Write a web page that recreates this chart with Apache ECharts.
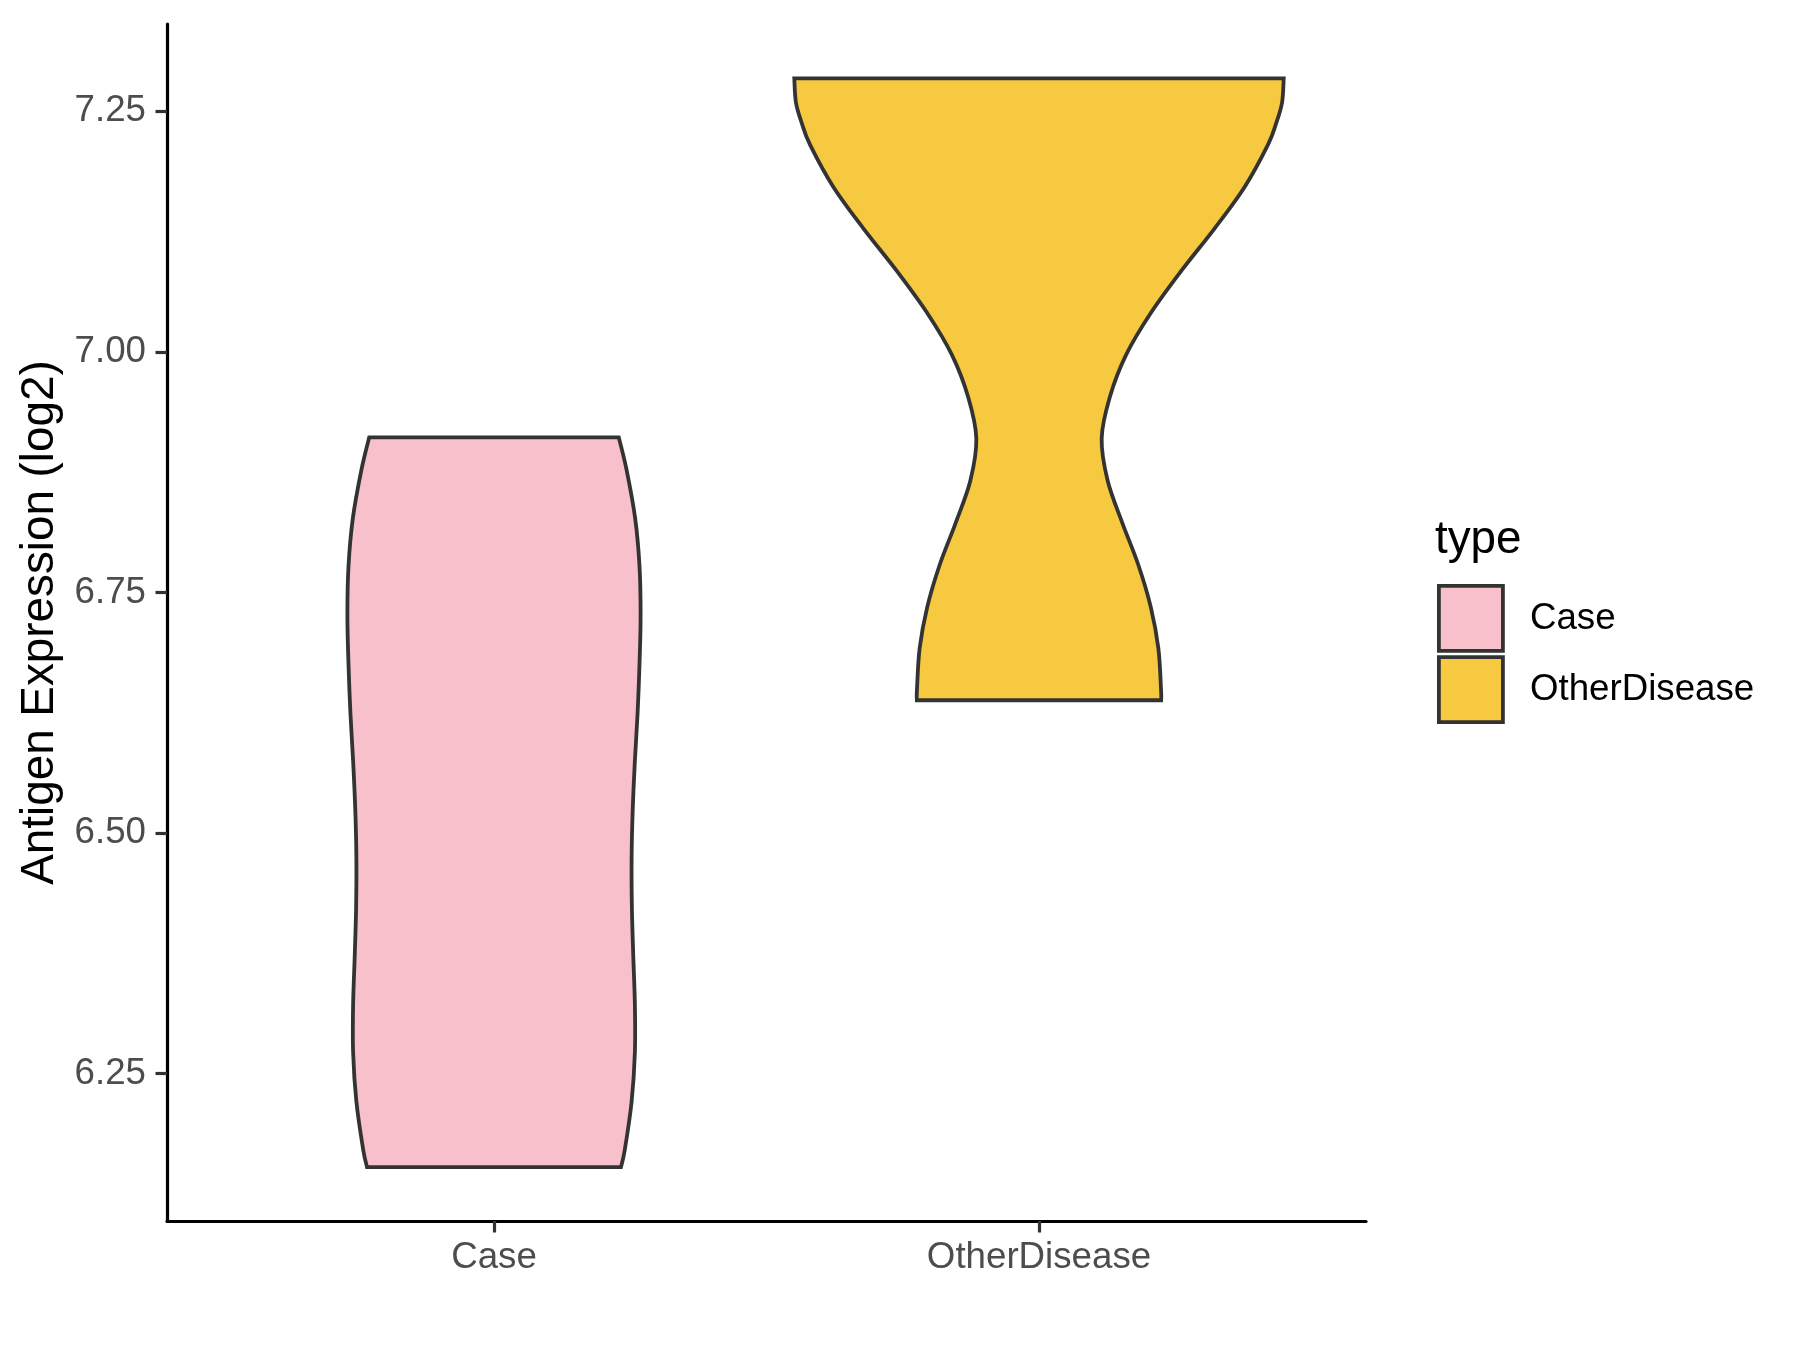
<!DOCTYPE html>
<html>
<head>
<meta charset="utf-8">
<script src="https://cdn.jsdelivr.net/npm/echarts@6/dist/echarts.min.js"></script>
<style>
  html, body { margin: 0; padding: 0; background: #fff; }
  #chart { width: 1800px; height: 1350px; }
</style>
</head>
<body>
<div id="chart"></div>
<script>
// categories on the x axis (positions 1 and 2)
const categories = ["Case", "OtherDisease"];
const fillColors = ["#F7C0CB", "#F6C940"];

// violin outlines: expression value and half width (x-axis units)
const caseY = [6.911, 6.878, 6.827, 6.777, 6.726, 6.676, 6.625, 6.575, 6.524, 6.474, 6.423, 6.373, 6.322, 6.272, 6.221, 6.171, 6.153];
const caseHalfWidth = [0.229, 0.243, 0.259, 0.267, 0.269, 0.267, 0.2635, 0.2585, 0.2545, 0.2525, 0.253, 0.2555, 0.2585, 0.2585, 0.2525, 0.240, 0.233];
const otherY = [7.284, 7.259, 7.237, 7.215, 7.171, 7.128, 7.084, 7.041, 6.997, 6.953, 6.910, 6.866, 6.822, 6.779, 6.735, 6.692, 6.648, 6.638];
const otherHalfWidth = [0.449, 0.446, 0.435, 0.420, 0.377, 0.322, 0.261, 0.206, 0.160, 0.130, 0.115, 0.126, 0.153, 0.182, 0.205, 0.219, 0.224, 0.224];

// y axis tick labels
const yTicks = [6.25, 6.5, 6.75, 7.0, 7.25];

const FONT = "'Liberation Sans', Arial, sans-serif";

// smooth curve (catmull-rom) through points, current point = pts[0]
function curve(pts) {
  let d = "";
  const n = pts.length;
  for (let i = 0; i < n - 1; i++) {
    const p0 = pts[Math.max(i - 1, 0)];
    const p1 = pts[i];
    const p2 = pts[i + 1];
    const p3 = pts[Math.min(i + 2, n - 1)];
    const c1x = p1[0] + (p2[0] - p0[0]) / 6;
    const c1y = p1[1] + (p2[1] - p0[1]) / 6;
    const c2x = p2[0] - (p3[0] - p1[0]) / 6;
    const c2y = p2[1] - (p3[1] - p1[1]) / 6;
    d += " C" + c1x + " " + c1y + " " + c2x + " " + c2y + " " + p2[0] + " " + p2[1];
  }
  return d;
}

function violin(ys, hws, color) {
  return function (params, api) {
    const pos = api.value(0);
    const left = ys.map((y, i) => api.coord([pos - hws[i], y]));
    const right = ys.map((y, i) => api.coord([pos + hws[i], y])).reverse();
    let d = "M" + left[0][0] + " " + left[0][1] + curve(left);
    d += " L" + right[0][0] + " " + right[0][1] + curve(right) + " Z";
    return {
      type: "path",
      shape: { pathData: d },
      style: { fill: color, stroke: "#333333", lineWidth: 3.8, lineJoin: "miter" }
    };
  };
}

const myChart = echarts.init(document.getElementById("chart"));
const option = {
  animation: false,
  backgroundColor: "#ffffff",
  grid: { left: 167, top: 24, width: 1199, height: 1197 },
  title: {
    text: "type",
    left: 1430,
    top: 512,
    textStyle: { fontFamily: FONT, fontSize: 45.8, fontWeight: "normal", color: "#000" }
  },
  legend: {
    orient: "vertical",
    left: 1432,
    top: 579,
    icon: "rect",
    itemWidth: 64,
    itemHeight: 65,
    itemGap: 2.5,
    itemStyle: { borderColor: "#333333", borderWidth: 3.8 },
    textStyle: { fontFamily: FONT, fontSize: 36.7, color: "#000", padding: [0, 0, 0, 22] },
    data: categories
  },
  xAxis: {
    type: "value",
    min: 0.4,
    max: 2.6,
    splitLine: { show: false },
    axisLine: { show: true, lineStyle: { color: "#000", width: 3.2 } },
    axisTick: { show: true, length: 11.5, customValues: [1, 2], lineStyle: { color: "#333333", width: 3.2 } },
    axisLabel: {
      customValues: [1, 2],
      margin: 18,
      fontFamily: FONT,
      fontSize: 36.7,
      color: "#4D4D4D",
      formatter: (v) => categories[Math.round(v) - 1] || ""
    }
  },
  yAxis: {
    type: "value",
    min: 6.097,
    max: 7.3405,
    name: "Antigen Expression (log2)",
    nameLocation: "middle",
    nameGap: 104,
    nameTextStyle: { fontFamily: FONT, fontSize: 45.8, color: "#000" },
    splitLine: { show: false },
    axisLine: { show: true, lineStyle: { color: "#000", width: 3.2 } },
    axisTick: { show: true, length: 11.5, customValues: yTicks, lineStyle: { color: "#333333", width: 3.2 } },
    axisLabel: {
      customValues: yTicks,
      margin: 21,
      fontFamily: FONT,
      fontSize: 36.7,
      color: "#4D4D4D",
      formatter: (v) => v.toFixed(2)
    }
  },
  series: [
    {
      name: categories[0],
      type: "custom",
      itemStyle: { color: fillColors[0] },
      renderItem: violin(caseY, caseHalfWidth, fillColors[0]),
      data: [[1, 6.5]]
    },
    {
      name: categories[1],
      type: "custom",
      itemStyle: { color: fillColors[1] },
      renderItem: violin(otherY, otherHalfWidth, fillColors[1]),
      data: [[2, 7.0]]
    }
  ]
};
myChart.setOption(option);
</script>
</body>
</html>
